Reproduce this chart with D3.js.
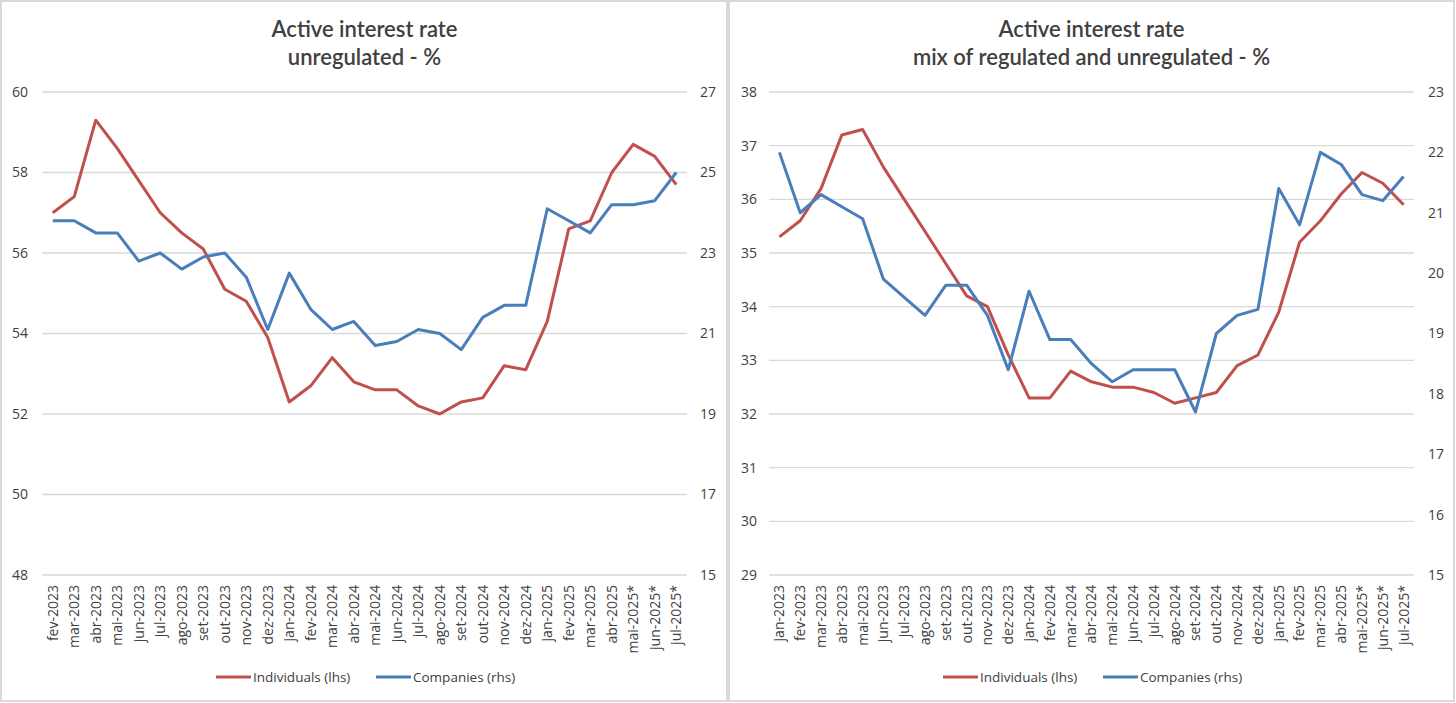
<!DOCTYPE html>
<html>
<head>
<meta charset="utf-8">
<script src="https://cdn.jsdelivr.net/npm/d3@7/dist/d3.min.js"></script>
<style>
  html, body { margin: 0; padding: 0; background: #fff; }
  svg { display: block; font-family: "Open Sans", Lato, sans-serif; }
</style>
</head>
<body>
<svg id="chart" width="1456" height="703"></svg>
<script>
// ---- Left chart data (unregulated) ----
const leftCategories = ["fev-2023","mar-2023","abr-2023","mai-2023","jun-2023","jul-2023","ago-2023","set-2023","out-2023","nov-2023","dez-2023","jan-2024","fev-2024","mar-2024","abr-2024","mai-2024","jun-2024","jul-2024","ago-2024","set-2024","out-2024","nov-2024","dez-2024","jan-2025","fev-2025","mar-2025","abr-2025","mai-2025*","jun-2025*","jul-2025*"];
const leftIndividuals = [57.0,57.4,59.3,58.6,57.8,57.0,56.5,56.1,55.1,54.8,53.9,52.3,52.7,53.4,52.8,52.6,52.6,52.2,52.0,52.3,52.4,53.2,53.1,54.3,56.6,56.8,58.0,58.7,58.4,57.7];
const leftCompanies = [23.8,23.8,23.5,23.5,22.8,23.0,22.6,22.9,23.0,22.4,21.1,22.5,21.6,21.1,21.3,20.7,20.8,21.1,21.0,20.6,21.4,21.7,21.7,24.1,23.8,23.5,24.2,24.2,24.3,25.0];
const leftLhsTicks = [48,50,52,54,56,58,60];
const leftRhsTicks = [15,17,19,21,23,25,27];

// ---- Right chart data (mix of regulated and unregulated) ----
const rightCategories = ["jan-2023","fev-2023","mar-2023","abr-2023","mai-2023","jun-2023","jul-2023","ago-2023","set-2023","out-2023","nov-2023","dez-2023","jan-2024","fev-2024","mar-2024","abr-2024","mai-2024","jun-2024","jul-2024","ago-2024","set-2024","out-2024","nov-2024","dez-2024","jan-2025","fev-2025","mar-2025","abr-2025","mai-2025*","jun-2025*","jul-2025*"];
const rightIndividuals = [35.3,35.6,36.2,37.2,37.3,36.6,36.0,35.4,34.8,34.2,34.0,33.1,32.3,32.3,32.8,32.6,32.5,32.5,32.4,32.2,32.3,32.4,32.9,33.1,33.9,35.2,35.6,36.1,36.5,36.3,35.9];
const rightCompanies = [22.0,21.0,21.3,21.1,20.9,19.9,19.6,19.3,19.8,19.8,19.3,18.4,19.7,18.9,18.9,18.5,18.2,18.4,18.4,18.4,17.7,19.0,19.3,19.4,21.4,20.8,22.0,21.8,21.3,21.2,21.6];
const rightLhsTicks = [29,30,31,32,33,34,35,36,37,38];
const rightRhsTicks = [15,16,17,18,19,20,21,22,23];

const seriesNames = ["Individuals (lhs)", "Companies (rhs)"];
const titlesLeft = ["Active interest rate", "unregulated - %"];
const titlesRight = ["Active interest rate", "mix of regulated and unregulated - %"];

const RED = "#C0504D";
const BLUE = "#4A7EBB";
const TEXT = "#404040";
const TITLE = "#404040";
const GRID = "#D9D9D9";
const LABEL_FONT = "'Open Sans', sans-serif";

const svg = d3.select("#chart");

// Panel borders
svg.append("rect").attr("x", 1).attr("y", 1).attr("width", 726).attr("height", 700)
  .attr("fill", "#fff").attr("stroke", GRID).attr("stroke-width", 2);
svg.append("rect").attr("x", 729).attr("y", 1).attr("width", 725).attr("height", 700)
  .attr("fill", "#fff").attr("stroke", GRID).attr("stroke-width", 2);

function drawPanel(cfg) {
  const g = svg.append("g");
  const x = d3.scaleBand().domain(cfg.categories).range([cfg.x0, cfg.x1]);
  const yL = d3.scaleLinear().domain(d3.extent(cfg.lhsTicks)).range([575, 92]);
  const yR = d3.scaleLinear().domain(d3.extent(cfg.rhsTicks)).range([575, 92]);

  // Titles
  cfg.titles.forEach((t, i) => {
    g.append("text").attr("x", (cfg.x0 + cfg.x1) / 2).attr("y", 37 + i * 28)
      .attr("text-anchor", "middle").attr("fill", TITLE)
      .attr("font-family", "Lato, sans-serif")
      .attr("font-size", 22).attr("font-weight", 600).text(t);
  });

  // Gridlines (lhs)
  g.append("g").selectAll("line").data(cfg.lhsTicks).join("line")
    .attr("x1", cfg.x0).attr("x2", cfg.x1)
    .attr("y1", d => yL(d)).attr("y2", d => yL(d))
    .attr("stroke", GRID).attr("stroke-width", 1.3);

  // Left axis
  const axL = d3.axisLeft(yL).tickValues(cfg.lhsTicks).tickSize(0).tickPadding(0);
  const gL = g.append("g").attr("transform", `translate(${cfg.lhsLabelX},0)`).call(axL);
  gL.select(".domain").remove();
  gL.selectAll("text").attr("fill", TEXT).attr("font-size", 14).attr("text-anchor", "middle")
    .attr("font-family", LABEL_FONT);

  // Right axis
  const axR = d3.axisRight(yR).tickValues(cfg.rhsTicks).tickSize(0).tickPadding(0);
  const gR = g.append("g").attr("transform", `translate(${cfg.rhsLabelX},0)`).call(axR);
  gR.select(".domain").remove();
  gR.selectAll("text").attr("fill", TEXT).attr("font-size", 14).attr("text-anchor", "middle")
    .attr("font-family", LABEL_FONT);

  // X axis labels
  const axX = d3.axisBottom(x).tickSize(0).tickPadding(0);
  const gX = g.append("g").attr("transform", `translate(0,${585})`).call(axX);
  gX.select(".domain").remove();
  gX.selectAll("text")
    .attr("fill", TEXT).attr("font-size", 14).attr("font-family", LABEL_FONT)
    .attr("text-anchor", "end")
    .attr("transform", "rotate(-90)").attr("x", 0).attr("y", 0)
    .attr("dy", "0.35em");

  const cx = d => x(d) + x.bandwidth() / 2;
  const lineL = d3.line().x((d, i) => cx(cfg.categories[i])).y(d => yL(d));
  const lineR = d3.line().x((d, i) => cx(cfg.categories[i])).y(d => yR(d));

  g.append("path").datum(cfg.individuals).attr("d", lineL)
    .attr("fill", "none").attr("stroke", RED).attr("stroke-width", 3).attr("stroke-linejoin", "round");
  g.append("path").datum(cfg.companies).attr("d", lineR)
    .attr("fill", "none").attr("stroke", BLUE).attr("stroke-width", 3).attr("stroke-linejoin", "round");

  // Legend
  const leg = g.append("g");
  const items = [
    {name: seriesNames[0], color: RED, x: cfg.legendX},
    {name: seriesNames[1], color: BLUE, x: cfg.legendX + 160}
  ];
  items.forEach(it => {
    leg.append("line").attr("x1", it.x).attr("x2", it.x + 35).attr("y1", 677).attr("y2", 677)
      .attr("stroke", it.color).attr("stroke-width", 3);
    leg.append("text").attr("x", it.x + 37).attr("y", 677).attr("dy", "0.35em")
      .attr("fill", TEXT).attr("font-size", 13.5).attr("font-family", LABEL_FONT).text(it.name);
  });
}

drawPanel({
  categories: leftCategories, individuals: leftIndividuals, companies: leftCompanies,
  lhsTicks: leftLhsTicks, rhsTicks: leftRhsTicks, titles: titlesLeft,
  x0: 42, x1: 687, lhsLabelX: 20, rhsLabelX: 708, legendX: 216
});
drawPanel({
  categories: rightCategories, individuals: rightIndividuals, companies: rightCompanies,
  lhsTicks: rightLhsTicks, rhsTicks: rightRhsTicks, titles: titlesRight,
  x0: 769, x1: 1414, lhsLabelX: 749, rhsLabelX: 1436, legendX: 943
});
</script>
</body>
</html>
